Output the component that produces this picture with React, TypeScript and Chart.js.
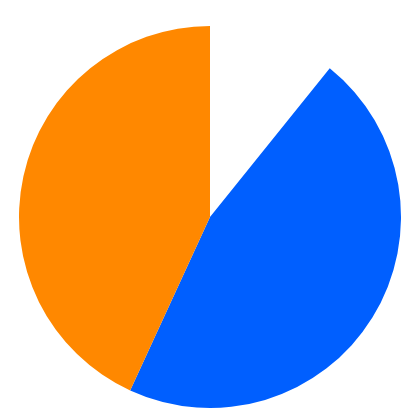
import React, { useEffect, useRef } from "react";
import { Chart, registerables } from "chart.js";

Chart.register(...registerables);

const categories = ["Other", "Blue", "Orange"];
const values = [11, 47, 44];
const colors = ["#ffffff", "#005fff", "#ff8800"];

export default function App() {
  const ref = useRef<HTMLCanvasElement | null>(null);
  useEffect(() => {
    if (!ref.current) return;
    const chart = new Chart(ref.current, {
      type: "pie",
      data: {
        labels: categories,
        datasets: [
          {
            data: values,
            backgroundColor: colors,
            borderColor: "#ffffff",
            borderWidth: 0,
          },
        ],
      },
      options: {
        animation: false,
        responsive: true,
        maintainAspectRatio: false,
        layout: { padding: { top: 18, bottom: 4, left: 0, right: 0 } },
        plugins: { legend: { display: false }, tooltip: { enabled: false } },
      },
    });
    return () => chart.destroy();
  }, []);
  return (
    <div style={{ width: 404, height: 404 }}>
      <canvas ref={ref} />
    </div>
  );
}
